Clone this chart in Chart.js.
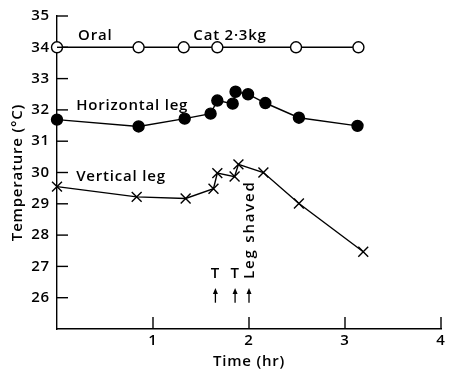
<!DOCTYPE html>
<html><head><meta charset="utf-8">
<script src="https://cdn.jsdelivr.net/npm/chart.js@4/dist/chart.umd.min.js"></script>
<style>html,body{margin:0;padding:0;background:#fff}#wrap{width:450px;height:374px}</style>
</head><body><div id="wrap"><canvas id="c" width="450" height="374"></canvas></div>
<script>
const oralX = [0, 0.85, 1.32, 1.67, 2.49, 3.14];
const oralY = [34, 34, 34, 34, 34, 34];
const horizX = [0, 0.85, 1.33, 1.6, 1.67, 1.83, 1.86, 1.99, 2.17, 2.52, 3.13];
const horizY = [31.69, 31.47, 31.72, 31.88, 32.3, 32.2, 32.58, 32.5, 32.22, 31.75, 31.49];
const vertX = [0, 0.83, 1.34, 1.63, 1.67, 1.85, 1.89, 2.15, 2.52, 3.19];
const vertY = [29.55, 29.22, 29.17, 29.48, 29.98, 29.87, 30.26, 30.0, 29.01, 27.47];
const xTicks = [1, 2, 3, 4];
const yTicks = [26, 27, 28, 29, 30, 31, 32, 33, 34, 35];
const seriesLabels = ["Oral", "Horizontal leg", "Vertical leg"];
const textNotes = [
  {text: "Oral", x: 0.22, y: 34.23},
  {text: "Cat 2·3kg", x: 1.42, y: 34.23},
  {text: "Horizontal leg", x: 0.2, y: 32.0},
  {text: "Vertical leg", x: 0.2, y: 29.72}
];
const markerT = [{text: "T", x: 1.65, y: 26.63}, {text: "T", x: 1.855, y: 26.63}];
const arrowX = [1.65, 1.855, 2.0];
const arrowY = [25.84, 26.31];
const shavedNote = {text: "Leg shaved", x: 2.05, y: 26.6};

const FONT = "'Open Sans', sans-serif";
const WEIGHT = 600;
const SPACING = '0.8px';
const toPts = (xs, ys) => xs.map((x, i) => ({x, y: ys[i]}));

const annot = {
  id: 'annot',
  beforeDraw(chart) { chart.ctx.letterSpacing = SPACING; },
  afterDraw(chart) {
    const ctx = chart.ctx, xs = chart.scales.x, ys = chart.scales.y;
    ctx.save();
    ctx.letterSpacing = SPACING;
    ctx.strokeStyle = '#000'; ctx.fillStyle = '#000'; ctx.lineWidth = 1.4;
    yTicks.forEach(v => {
      const py = ys.getPixelForValue(v);
      ctx.beginPath(); ctx.moveTo(xs.left, py); ctx.lineTo(xs.left + 11, py); ctx.stroke();
    });
    xTicks.forEach(v => {
      const px = xs.getPixelForValue(v);
      ctx.beginPath(); ctx.moveTo(px, ys.bottom); ctx.lineTo(px, ys.bottom - 12); ctx.stroke();
    });
    ctx.font = WEIGHT + " 15px " + FONT;
    ctx.textBaseline = 'alphabetic';
    ctx.textAlign = 'left';
    textNotes.forEach(n => ctx.fillText(n.text, xs.getPixelForValue(n.x), ys.getPixelForValue(n.y)));
    ctx.textAlign = 'center';
    markerT.forEach(n => ctx.fillText(n.text, xs.getPixelForValue(n.x), ys.getPixelForValue(n.y)));
    ctx.lineWidth = 1.3;
    arrowX.forEach(ax => {
      const px = xs.getPixelForValue(ax);
      const y0 = ys.getPixelForValue(arrowY[0]), y1 = ys.getPixelForValue(arrowY[1]);
      ctx.beginPath(); ctx.moveTo(px, y0); ctx.lineTo(px, y1 + 4); ctx.stroke();
      ctx.beginPath(); ctx.moveTo(px, y1); ctx.lineTo(px - 2.5, y1 + 6); ctx.lineTo(px + 2.5, y1 + 6); ctx.closePath(); ctx.fill();
    });
    ctx.save();
    ctx.translate(xs.getPixelForValue(shavedNote.x), ys.getPixelForValue(shavedNote.y));
    ctx.rotate(-Math.PI / 2);
    ctx.textAlign = 'left';
    ctx.letterSpacing = '1.8px';
    ctx.fillText(shavedNote.text, 0, 0);
    ctx.restore();
    ctx.restore();
  }
};

const common = {showLine: true, borderColor: '#000', borderWidth: 1.4, pointRadius: 5.5, pointBorderColor: '#000', pointBorderWidth: 1.4, clip: false};

new Chart(document.getElementById('c'), {
  type: 'scatter',
  data: {
    datasets: [
      Object.assign({label: seriesLabels[0], data: toPts(oralX, oralY), pointStyle: 'circle', pointBackgroundColor: '#fff'}, common),
      Object.assign({label: seriesLabels[1], data: toPts(horizX, horizY), pointStyle: 'circle', pointBackgroundColor: '#000'}, common),
      Object.assign({label: seriesLabels[2], data: toPts(vertX, vertY), pointStyle: 'crossRot', pointBackgroundColor: '#000'}, common, {pointRadius: 7})
    ]
  },
  options: {
    responsive: false,
    animation: false,
    events: [],
    layout: {padding: {left: 0, right: 9, top: 12, bottom: 0}},
    plugins: {legend: {display: false}, tooltip: {enabled: false}},
    scales: {
      x: {
        type: 'linear', min: 0, max: 4,
        afterFit(s) { s.height = 45; },
        grid: {display: true, drawOnChartArea: false, drawTicks: false},
        border: {display: true, color: '#000', width: 1.4},
        ticks: {stepSize: 1, padding: 3, color: '#000', font: {family: FONT, size: 15, weight: WEIGHT},
          callback: v => (v === 0 ? '' : v)},
        title: {display: true, text: 'Time (hr)', color: '#000', font: {family: FONT, size: 15, weight: WEIGHT}, padding: {top: 3, bottom: 3}}
      },
      y: {
        type: 'linear', min: 25, max: 35,
        afterFit(s) { s.width = 57; },
        grid: {display: true, drawOnChartArea: false, drawTicks: false},
        border: {display: true, color: '#000', width: 1.4},
        ticks: {stepSize: 1, padding: 7, color: '#000', font: {family: FONT, size: 15, weight: WEIGHT},
          callback: v => (v === 25 ? '' : v)},
        title: {display: true, text: 'Temperature (°C)', color: '#000', font: {family: FONT, size: 15, weight: WEIGHT}, padding: {top: 9, bottom: 0}}
      }
    }
  },
  plugins: [annot]
});
</script></body></html>
